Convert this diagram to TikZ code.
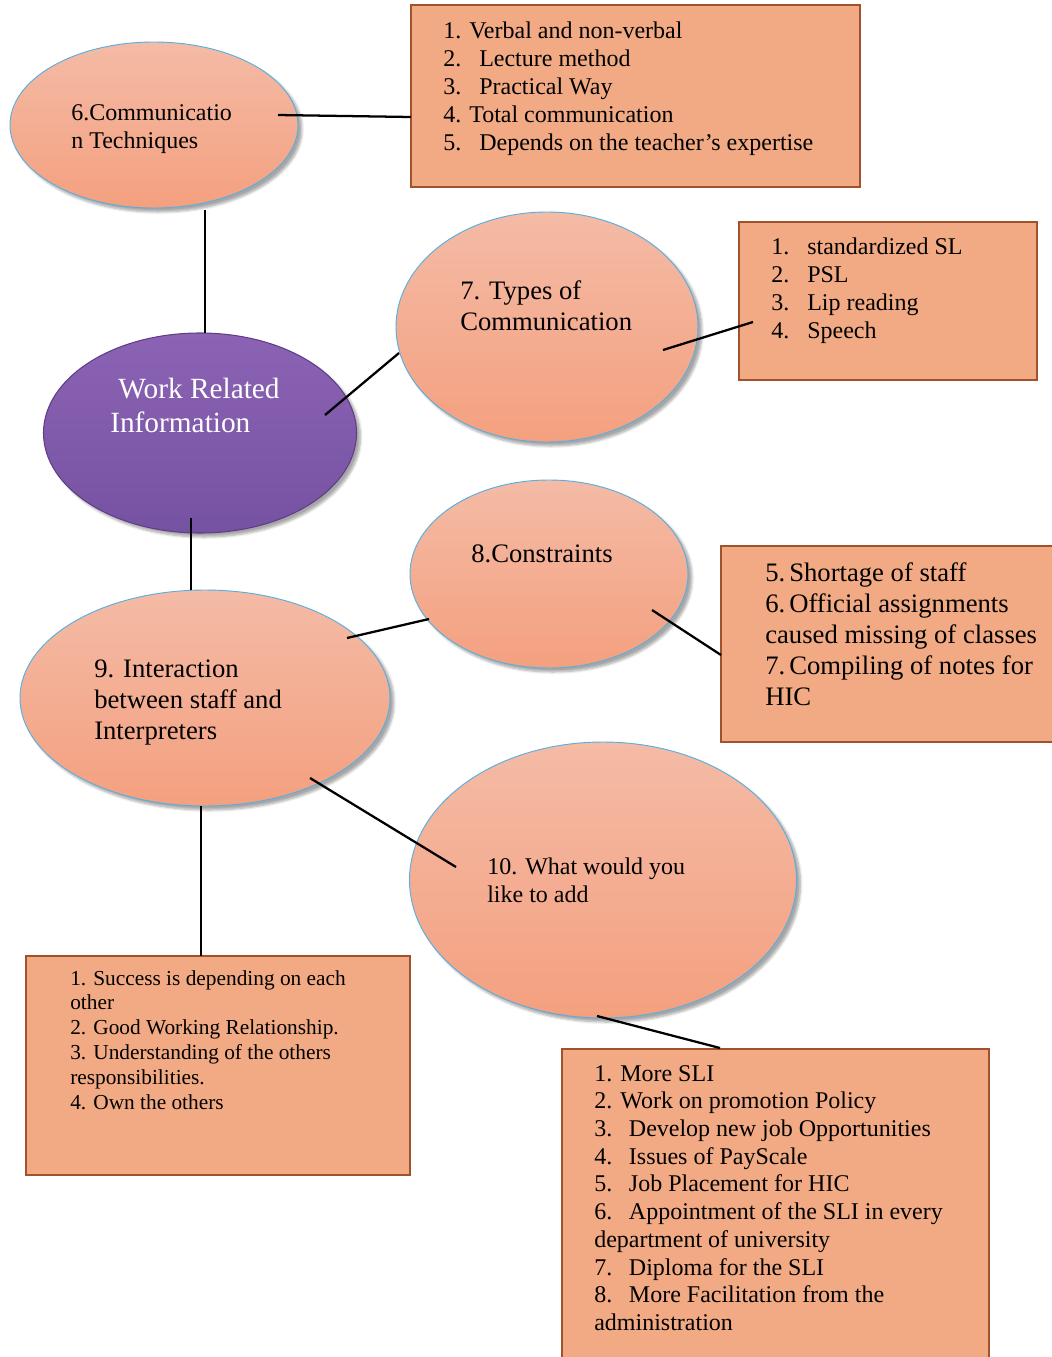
\documentclass[tikz,border=0pt]{standalone}
\usepackage{fontspec}
\setmainfont{Liberation Serif}
\usetikzlibrary{shapes.geometric,shadows.blur}
\definecolor{boxfill}{HTML}{F2AA84}
\definecolor{boxline}{HTML}{A0522D}
\definecolor{ovtop}{HTML}{F4BBA6}
\definecolor{ovbot}{HTML}{F4A07F}
\definecolor{ovline}{HTML}{5AAEDF}
\definecolor{pptop}{HTML}{8C63B4}
\definecolor{ppbot}{HTML}{7652A2}
\definecolor{ppline}{HTML}{5E3F87}
\def\u{0.75pt}
\newcommand\fs[2]{\fontsize{#1}{#2}\selectfont}
\newcommand\nb[2]{\makebox[#1][l]{#2}}
\tikzset{
  oval/.style={ellipse, draw=ovline, line width=0.7pt, top color=ovtop, bottom color=ovbot,
    inner sep=0pt, blur shadow={shadow xshift=3pt, shadow yshift=-3pt, shadow blur steps=6, shadow opacity=35}},
  pp/.style={ellipse, draw=ppline, line width=0.8pt, top color=pptop, bottom color=ppbot,
    inner sep=0pt, blur shadow={shadow xshift=3pt, shadow yshift=-3pt, shadow blur steps=6, shadow opacity=35}},
  infobox/.style={rectangle, draw=boxline, fill=boxfill, line width=1pt, inner sep=0pt},
  txt/.style={anchor=base west, inner sep=0pt, align=left},
  conn/.style={line width=1.7pt, black}
}
\begin{document}
\begin{tikzpicture}[x=0.75pt,y=-0.75pt]
\useasboundingbox (0,0) rectangle (1052,1357);
\clip (0,0) rectangle (1052,1357);
% boxes
\node[infobox, minimum width=449*\u, minimum height=182*\u] (bA) at (635.5,96) {};
\node[infobox, minimum width=298*\u, minimum height=158*\u] (bB) at (888,301) {};
\node[infobox, minimum width=334*\u, minimum height=196*\u] (bC) at (888,644) {};
\node[infobox, minimum width=384*\u, minimum height=219*\u] (bD) at (218,1065.5) {};
\node[infobox, minimum width=427*\u, minimum height=320*\u] (bE) at (775.5,1209) {};
% ellipses
\node[oval, minimum width=288*\u, minimum height=166*\u] (e6) at (154,125) {};
\node[oval, minimum width=302*\u, minimum height=230*\u] (e7) at (547,327) {};
\node[pp, minimum width=313*\u, minimum height=200*\u] (wr) at (200,433) {};
\node[oval, minimum width=278*\u, minimum height=188*\u] (e8) at (549,574) {};
\node[oval, minimum width=370*\u, minimum height=216*\u] (e9) at (205,698) {};
\node[oval, minimum width=387*\u, minimum height=276*\u] (e10) at (603,880) {};
% connectors
\coordinate (c1a) at (278,115); \coordinate (c1b) at (411,117);
\coordinate (c2a) at (205,210); \coordinate (c2b) at (205,333);
\coordinate (c3a) at (325,415); \coordinate (c3b) at (399,353);
\coordinate (c4a) at (663,350); \coordinate (c4b) at (753,322);
\coordinate (c5a) at (652,610); \coordinate (c5b) at (721,655);
\coordinate (c6a) at (191,518); \coordinate (c6b) at (191,590);
\coordinate (c7a) at (347,638); \coordinate (c7b) at (429,619);
\coordinate (c8a) at (310,778); \coordinate (c8b) at (456,867);
\coordinate (c9a) at (201,806); \coordinate (c9b) at (201,956);
\coordinate (c10a) at (597,1016); \coordinate (c10b) at (720,1048);
\draw[conn] (c1a) -- (c1b);
\draw[conn] (c2a) -- (c2b);
\draw[conn] (c3a) -- (c3b);
\draw[conn] (c4a) -- (c4b);
\draw[conn] (c5a) -- (c5b);
\draw[conn] (c6a) -- (c6b);
\draw[conn] (c7a) -- (c7b);
\draw[conn] (c8a) -- (c8b);
\draw[conn] (c9a) -- (c9b);
\draw[conn] (c10a) -- (c10b);
% texts
\node[txt] (tA) at (443,38) {\fs{18}{21}\begin{tabular}[t]{@{}l@{}}
1. Verbal and non-verbal\\
\nb{27pt}{2.}Lecture method\\
\nb{27pt}{3.}Practical Way\\
4. Total communication\\
\nb{27pt}{5.}Depends on the teacher’s expertise
\end{tabular}};
\node[txt] (t6) at (71,120) {\fs{18}{21}\begin{tabular}[t]{@{}l@{}}
6.Communicatio\\ n Techniques
\end{tabular}};
\node[txt] (tB) at (771,254) {\fs{18}{21}\begin{tabular}[t]{@{}l@{}}
\nb{27pt}{1.}standardized SL\\
\nb{27pt}{2.}PSL\\
\nb{27pt}{3.}Lip reading\\
\nb{27pt}{4.}Speech
\end{tabular}};
\node[txt] (t7) at (460,299) {\fs{20}{23.25}\begin{tabular}[t]{@{}l@{}}
7. Types of\\ Communication
\end{tabular}};
\node[txt, text=white] (twr) at (110,398) {\fs{22}{25.5}\begin{tabular}[t]{@{}l@{}}
\hspace{6pt}Work Related\\ Information
\end{tabular}};
\node[txt] (t8) at (471,562) {\fs{20}{23}8.Constraints};
\node[txt] (tC) at (765,581) {\fs{20}{23.25}\begin{tabular}[t]{@{}l@{}}
\nb{18pt}{5.}Shortage of staff\\
\nb{18pt}{6.}Official assignments\\
caused missing of classes\\
\nb{18pt}{7.}Compiling of notes for\\
HIC
\end{tabular}};
\node[txt] (t9) at (94,677) {\fs{20}{23.25}\begin{tabular}[t]{@{}l@{}}
9. Interaction\\ between staff and\\ Interpreters
\end{tabular}};
\node[txt] (t10) at (487,874) {\fs{18}{21}\begin{tabular}[t]{@{}l@{}}
10. What would you\\ like to add
\end{tabular}};
\node[txt] (tD) at (70,985) {\fs{16}{18.6}\begin{tabular}[t]{@{}l@{}}
1. Success is depending on each\\
other\\
2. Good Working Relationship.\\
3. Understanding of the others\\
responsibilities.\\
4. Own the others
\end{tabular}};
\node[txt] (tE) at (594,1081) {\fs{18}{20.8}\begin{tabular}[t]{@{}l@{}}
1. More SLI\\
2. Work on promotion Policy\\
\nb{26pt}{3.}Develop new job Opportunities\\
\nb{26pt}{4.}Issues of PayScale\\
\nb{26pt}{5.}Job Placement for HIC\\
\nb{26pt}{6.}Appointment of the SLI in every\\
department of university\\
\nb{26pt}{7.}Diploma for the SLI\\
\nb{26pt}{8.}More Facilitation from the\\
administration
\end{tabular}};
\end{tikzpicture}
\end{document}
